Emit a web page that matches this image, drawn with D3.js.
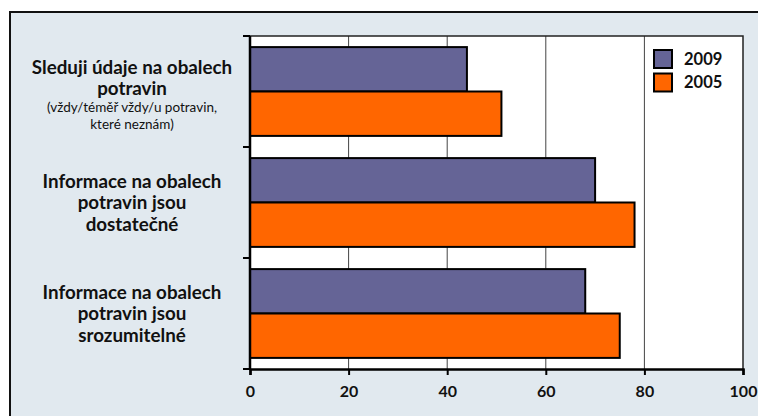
<!DOCTYPE html>
<html>
<head>
<meta charset="utf-8">
<script src="https://cdn.jsdelivr.net/npm/d3@7"></script>
<style>
  body { margin: 0; background: #fff; }
  svg { display: block; }
  text { font-family: Lato, "Open Sans", sans-serif; fill: #111; }
</style>
</head>
<body>
<svg id="chart" width="758" height="416"></svg>
<script>
// data
const categories = ["sleduji", "dostatecne", "srozumitelne"];
const categoryLines = [
  ["Sleduji údaje na obalech", "potravin"],
  ["Informace na obalech", "potravin jsou", "dostatečné"],
  ["Informace na obalech", "potravin jsou", "srozumitelné"]
];
const categoryNotes = [["(vždy/téměř vždy/u potravin,", "které neznám)"], [], []];
const seriesNames = ["2009", "2005"];
const values2009 = [44, 70, 68];
const values2005 = [51, 78, 75];
const xTicks = [0, 20, 40, 60, 80, 100];
const colors = ["#656496", "#ff6600"];

const svg = d3.select("#chart");
const plotLeft = 250, plotRight = 743, plotTop = 36, plotBottom = 369;

// frame
svg.append("rect")
  .attr("x", 10).attr("y", 12)
  .attr("width", 760).attr("height", 420)
  .attr("fill", "#e1e9ef")
  .attr("stroke", "#111").attr("stroke-width", 2);

// plot area
svg.append("rect")
  .attr("x", plotLeft).attr("y", plotTop)
  .attr("width", plotRight - plotLeft).attr("height", plotBottom - plotTop)
  .attr("fill", "#fff");

const x = d3.scaleLinear().domain([0, 100]).range([plotLeft, plotRight]);
const y = d3.scaleBand().domain(categories).range([plotTop, plotBottom]).padding(0);
const ySeries = d3.scaleBand().domain(seriesNames).range([0, y.bandwidth()])
  .paddingInner(0).paddingOuter(0.25);

// gridlines
svg.append("g").selectAll("line")
  .data(xTicks.filter(d => d > 0 && d < 100))
  .join("line")
  .attr("x1", d => x(d)).attr("x2", d => x(d))
  .attr("y1", plotTop).attr("y2", plotBottom)
  .attr("stroke", "#444").attr("stroke-width", 1);

// plot border (top and right)
svg.append("path")
  .attr("d", `M${plotLeft},${plotTop}H${plotRight}V${plotBottom}`)
  .attr("fill", "none").attr("stroke", "#222").attr("stroke-width", 1.5);

// bars
const rows = categories.map((c, i) => ({ c, vals: [values2009[i], values2005[i]] }));
svg.append("g").selectAll("g")
  .data(rows)
  .join("g")
  .attr("transform", d => `translate(0,${y(d.c)})`)
  .selectAll("rect")
  .data(d => d.vals.map((v, j) => ({ s: seriesNames[j], v, j })))
  .join("rect")
  .attr("x", x(0))
  .attr("y", d => ySeries(d.s))
  .attr("width", d => x(d.v) - x(0))
  .attr("height", ySeries.bandwidth())
  .attr("fill", d => colors[d.j])
  .attr("stroke", "#000").attr("stroke-width", 2);

// x axis
const xAxis = svg.append("g")
  .attr("transform", `translate(0,${plotBottom})`)
  .call(d3.axisBottom(x).tickValues(xTicks).tickSize(6).tickPadding(11));
xAxis.select(".domain").attr("stroke", "#000").attr("stroke-width", 2.5);
xAxis.selectAll(".tick line").attr("stroke", "#000").attr("stroke-width", 2);
xAxis.selectAll(".tick text")
  .attr("font-family", "Lato, sans-serif")
  .attr("font-size", 16).attr("font-weight", "bold").attr("fill", "#111");

// y axis line and ticks at band edges
svg.append("line")
  .attr("x1", plotLeft).attr("x2", plotLeft).attr("y1", plotTop).attr("y2", plotBottom)
  .attr("stroke", "#000").attr("stroke-width", 2.5);
const edges = categories.map(c => y(c)).concat([y.range()[1]]);
svg.append("g").selectAll("line")
  .data(edges)
  .join("line")
  .attr("x1", plotLeft - 7).attr("x2", plotLeft)
  .attr("y1", d => d).attr("y2", d => d)
  .attr("stroke", "#000").attr("stroke-width", 2);

// category labels
const labelX = 132;
const lab = svg.append("g").selectAll("g")
  .data(categories.map((c, i) => ({ c, lines: categoryLines[i], notes: categoryNotes[i] })))
  .join("g");
lab.each(function(d) {
  const g = d3.select(this);
  const lh = d.notes.length ? 21 : 21.5, nh = 16.5, gap = 19.5;
  const offsets = [];
  let o = 0;
  d.lines.forEach(t => { offsets.push({ t, o, note: false }); o += lh; });
  o -= lh;
  d.notes.forEach((t, k) => { o += k === 0 ? gap : nh; offsets.push({ t, o, note: true }); });
  const start = y(d.c) + y.bandwidth() / 2 - o / 2 + (d.notes.length ? 4 : 0);
  offsets.forEach(r => {
    g.append("text").attr("x", labelX).attr("y", start + r.o).attr("dy", "0.35em")
      .attr("text-anchor", "middle")
      .attr("font-size", r.note ? 13.5 : 18.8)
      .attr("font-weight", r.note ? "normal" : "bold")
      .text(r.t);
  });
});

// legend
const legend = svg.append("g").attr("transform", "translate(654,50)");
const li = legend.selectAll("g").data(seriesNames).join("g")
  .attr("transform", (d, i) => `translate(0,${i * 23.5})`);
li.append("rect")
  .attr("width", 18).attr("height", 18)
  .attr("fill", (d, i) => colors[i])
  .attr("stroke", "#000").attr("stroke-width", 2);
li.append("text")
  .attr("x", 30).attr("y", 9).attr("dy", "0.35em")
  .attr("font-size", 16.5).attr("font-weight", "bold")
  .text(d => d);
</script>
</body>
</html>
